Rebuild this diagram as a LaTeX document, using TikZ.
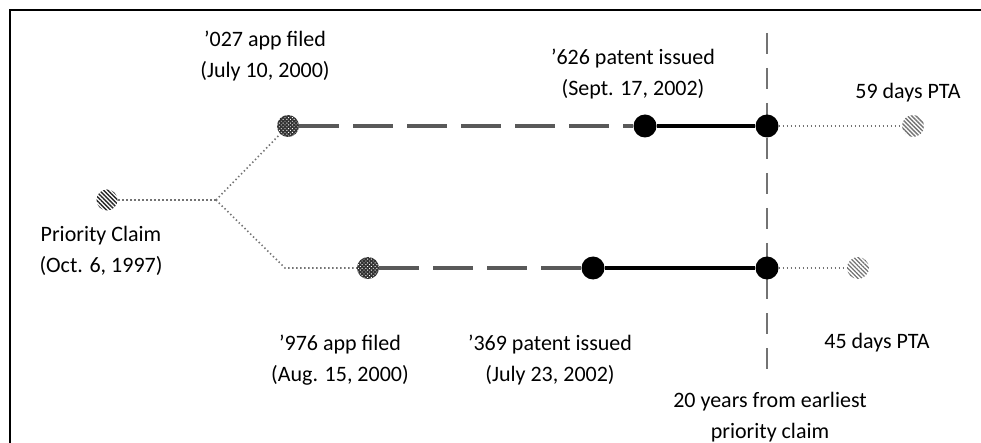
\documentclass[tikz,border=0pt]{standalone}
\usepackage{fontspec}
\setmainfont{Carlito}
\usetikzlibrary{patterns,patterns.meta}
\begin{document}
\begin{tikzpicture}[x=1pt,y=-1pt,
  lbl/.style={font=\fontsize{22}{31}\selectfont, align=center, inner sep=0pt},
  hatchdot/.style={circle, minimum size=21pt, inner sep=0pt, pattern={Lines[angle=-45, distance=3pt, line width=1.4pt]}, pattern color=black!85},
  lighthatch/.style={circle, minimum size=22pt, inner sep=0pt, pattern={Lines[angle=-45, distance=3pt, line width=1.3pt]}, pattern color=black!55},
  dotsdot/.style={circle, minimum size=22pt, inner sep=0pt, fill=black!80, postaction={pattern={Dots[angle=45, distance=2.6pt, radius=0.65pt]}, pattern color=white}},
  blackdot/.style={circle, minimum size=23pt, inner sep=0pt, fill=black},
  jct/.style={circle, minimum size=0pt, inner sep=0pt},
  dotline/.style={draw=black!55, line width=1.6pt, dash pattern=on 1.4pt off 2.6pt},
  longdash/.style={draw=black!65, line width=3.2pt, dash pattern=on 40pt off 14pt},
  solidline/.style={draw=black, line width=3.2pt},
  vline/.style={draw=black!55, line width=2.8pt, dash pattern=on 21pt off 14pt}
]
\useasboundingbox (0,0) rectangle (981,443);
\draw[line width=2pt] (10,443) -- (10,10) -- (981,10);

% vertical line
\coordinate (vt) at (767,33);
\coordinate (vb) at (767,382);
\draw[vline] (vt) -- (vb);

% nodes
\node[hatchdot] (pc) at (107,200) {};
\node[jct] (br) at (216,200) {};
\node[dotsdot] (a027) at (288,126) {};
\node[blackdot] (p626) at (645,126) {};
\node[blackdot] (t1) at (767,126) {};
\node[lighthatch] (pta59) at (913,126) {};
\node[dotsdot] (a976) at (368,268) {};
\node[blackdot] (p369) at (593,268) {};
\node[blackdot] (t2) at (767,268) {};
\node[lighthatch] (pta45) at (858,268) {};
\coordinate (lowstart) at (285,268);

% connectors
\draw[dotline] (pc) -- (br.center);
\draw[dotline] (br.center) -- (a027);
\draw[dotline] (br.center) -- (lowstart) -- (a976);
\draw[longdash] (a027) -- (p626);
\draw[solidline] (p626) -- (t1);
\draw[dotline] (t1) -- (pta59);
\draw[longdash] (a976) -- (p369);
\draw[solidline] (p369) -- (t2);
\draw[dotline] (t2) -- (pta45);

% labels
\node[lbl] (lpc) at (101,251) {Priority Claim\\(Oct. 6, 1997)};
\node[lbl] (l027) at (265,56) {’027 app filed\\(July 10, 2000)};
\node[lbl] (l626) at (633,74) {’626 patent issued\\(Sept. 17, 2002)};
\node[lbl] (l59) at (908,93) {59 days PTA};
\node[lbl] (l976) at (340,360) {’976 app filed\\(Aug. 15, 2000)};
\node[lbl] (l369) at (550,360) {’369 patent issued\\(July 23, 2002)};
\node[lbl] (l45) at (877,343) {45 days PTA};
\node[lbl] (l20) at (770,417) {20 years from earliest\\priority claim};
\end{tikzpicture}
\end{document}
